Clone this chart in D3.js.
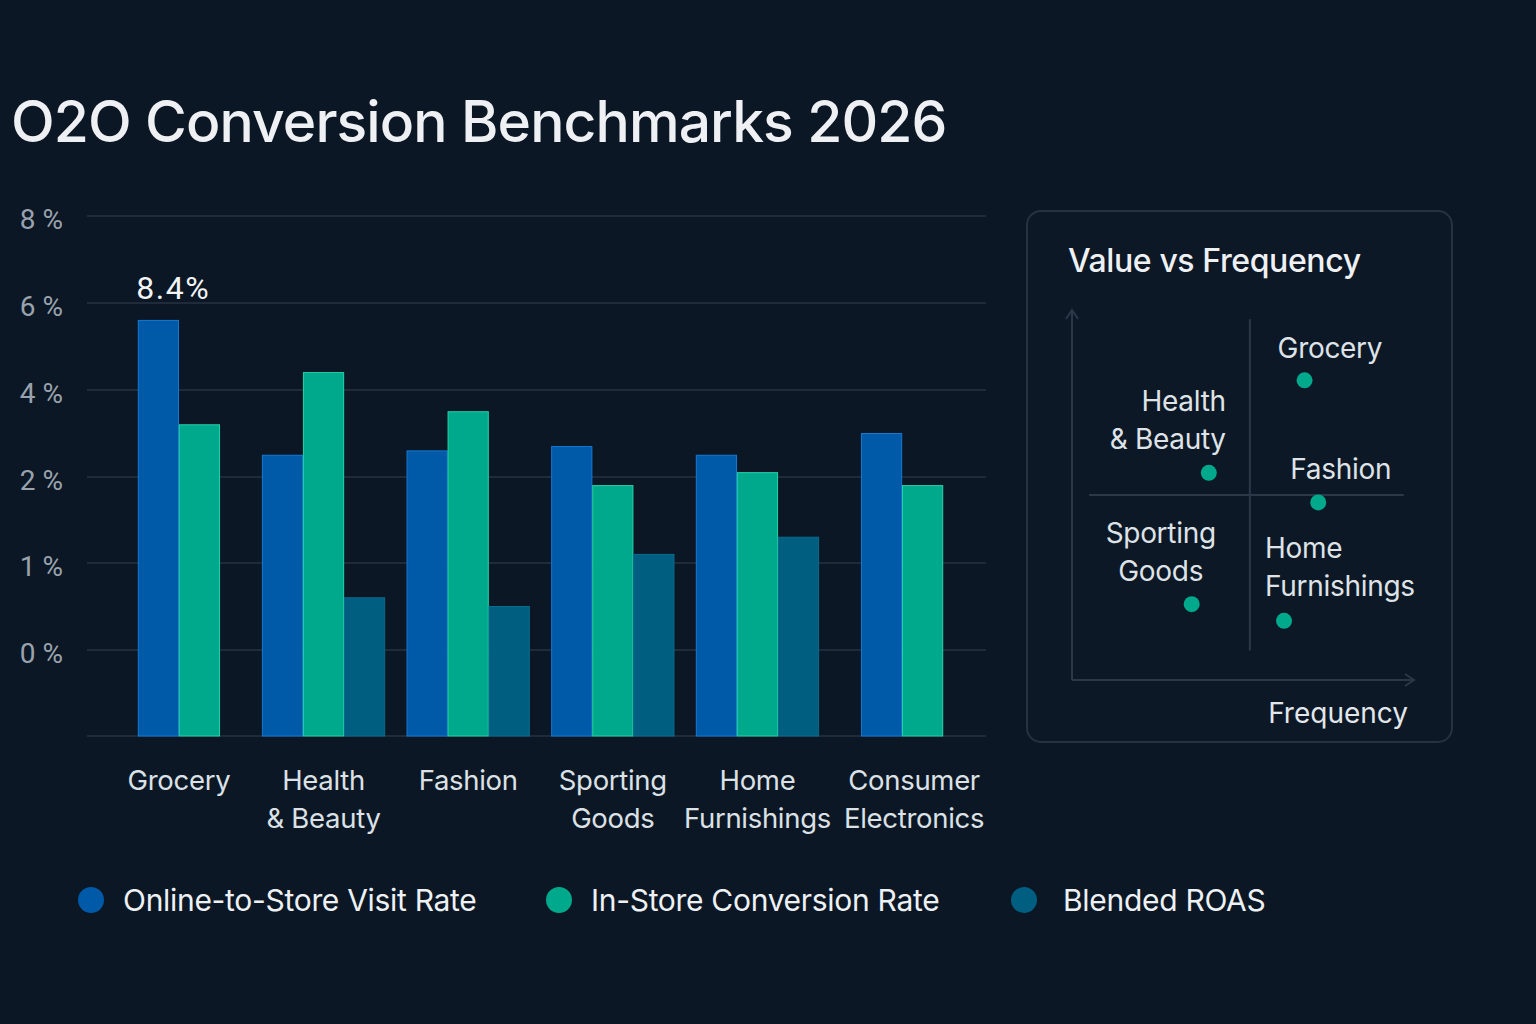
<!DOCTYPE html>
<html lang="en">
<head>
<meta charset="UTF-8">
<script src="https://d3js.org/d3.v7.min.js"></script>
<title>O2O Conversion Benchmarks 2026</title>
<style>
  html, body { margin: 0; padding: 0; background: #0b1725; }
  svg { display: block; font-family: Inter, "Noto Sans", sans-serif; }
</style>
</head>
<body>
<svg id="chart" width="1536" height="1024"></svg>
<script>
// categories and series
const categories = ["Grocery", "Health & Beauty", "Fashion", "Sporting Goods", "Home Furnishings", "Consumer Electronics"];
const categoryLines = [["Grocery"], ["Health", "& Beauty"], ["Fashion"], ["Sporting", "Goods"], ["Home", "Furnishings"], ["Consumer", "Electronics"]];
const seriesNames = ["Online-to-Store Visit Rate", "In-Store Conversion Rate", "Blended ROAS"];
const visitRate = [5.6, 2.5, 2.6, 2.7, 2.5, 3.0];
const conversionRate = [3.2, 4.4, 3.5, 1.9, 2.1, 1.9];
const blendedRoas = [null, 0.6, 0.5, 1.1, 1.3, null];
const seriesColors = ["#005aa8", "#00a88c", "#005f80"];
const seriesStrokes = ["#1679d2", "#25d3aa", "#0a6c8e"];

// y axis: ticks as printed (uneven steps)
const yTickValues = [0, 1, 2, 4, 6, 8];
const yTickLabels = ["0 %", "1 %", "2 %", "4 %", "6 %", "8 %"];
const calloutCategory = "Grocery";
const calloutText = "8.4%";

// inset scatter: value vs frequency
const scatterNames = ["Grocery", "Health & Beauty", "Fashion", "Sporting Goods", "Home Furnishings"];
const scatterFrequency = [6.8, 4.0, 7.2, 3.5, 6.2];
const scatterValue = [8.1, 5.6, 4.8, 2.05, 1.6];
const quadrantFrequency = 5.2;
const quadrantValue = 5.0;

const svg = d3.select("#chart");

// title
svg.append("text")
  .attr("x", 11).attr("y", 142)
  .attr("fill", "#eef0f3")
  .attr("font-size", 57).attr("font-weight", 500)
  .attr("letter-spacing", -0.9)
  .text("O2O Conversion Benchmarks 2026");

// main bar chart
const y = d3.scaleLinear()
  .domain([-1, 0, 1, 2, 4, 6, 8])
  .range([736, 650, 563, 477, 390, 303, 216]);

const x0 = d3.scaleBand().domain(categories).range([88, 993]).paddingInner(0.143).paddingOuter(0.2);
const x1 = d3.scaleBand().domain(seriesNames).range([0, x0.bandwidth()]).padding(0.02);

const grid = svg.append("g");
grid.selectAll("line")
  .data([-1].concat(yTickValues))
  .join("line")
  .attr("x1", 87).attr("x2", 986)
  .attr("y1", d => y(d)).attr("y2", d => y(d))
  .attr("stroke", "#1f2b3a").attr("stroke-width", 2);

const yAxis = d3.axisLeft(y).tickValues(yTickValues)
  .tickFormat((d, i) => yTickLabels[i]).tickSize(0).tickPadding(0);
const yAxisG = svg.append("g").attr("transform", "translate(63,3)").call(yAxis);
yAxisG.select(".domain").remove();
yAxisG.selectAll("text")
  .attr("fill", "#9aa3ad").attr("font-size", 28)
  .attr("font-family", "Roboto, Inter, sans-serif")
  .attr("dy", "0.35em");

// bars: groups with a missing series are centred in their band
const seriesData = [visitRate, conversionRate, blendedRoas];
const bars = [];
categories.forEach((c, ci) => {
  const present = seriesNames.filter((s, si) => seriesData[si][ci] != null);
  const shift = (seriesNames.length - present.length) * x1.step() / 2;
  present.forEach((s, pi) => {
    const si = seriesNames.indexOf(s);
    bars.push({ cat: c, series: s, si: si, value: seriesData[si][ci],
                x: x0(c) + shift + x1(seriesNames[pi]) });
  });
});

svg.append("g").selectAll("rect")
  .data(bars)
  .join("rect")
  .attr("x", d => d.x)
  .attr("y", d => y(d.value))
  .attr("width", x1.bandwidth())
  .attr("height", d => y(-1) - y(d.value))
  .attr("fill", d => seriesColors[d.si])
  .attr("stroke", d => seriesStrokes[d.si])
  .attr("stroke-width", 1);

// callout above Grocery
const calloutBar = bars.find(b => b.cat === calloutCategory && b.si === 0);
svg.append("text")
  .attr("x", calloutBar.x - 2)
  .attr("y", y(calloutBar.value) - 21)
  .attr("fill", "#f2f4f6").attr("font-size", 32)
  .attr("letter-spacing", 1.5)
  .attr("font-family", "Roboto, Inter, sans-serif")
  .text(calloutText);

// category labels
const labelShift = [0, 0, 0, 0, 0, 12];
const catLabels = svg.append("g");
categories.forEach((c, ci) => {
  const cx = x0(c) + x0.bandwidth() / 2 + labelShift[ci];
  const t = catLabels.append("text")
    .attr("x", cx)
    .attr("y", 790)
    .attr("text-anchor", "middle")
    .attr("fill", "#dce1e6").attr("font-size", 27.5)
    .attr("letter-spacing", -0.3);
  categoryLines[ci].forEach((line, li) => {
    t.append("tspan").attr("x", cx).attr("dy", li === 0 ? 0 : 38).text(line);
  });
});

// legend
const legendX = [91, 559, 1024];
const legend = svg.append("g").selectAll("g")
  .data(seriesNames)
  .join("g")
  .attr("transform", (d, i) => `translate(${legendX[i]},900)`);
legend.append("circle").attr("r", 13).attr("fill", (d, i) => seriesColors[i]);
legend.append("text")
  .attr("x", (d, i) => i === 2 ? 39 : 32).attr("dy", "0.35em")
  .attr("fill", "#eef1f4").attr("font-size", 30)
  .attr("letter-spacing", -0.3)
  .text(d => d);

// inset panel
const panel = svg.append("g");
panel.append("rect")
  .attr("x", 1027).attr("y", 211).attr("width", 425).attr("height", 531)
  .attr("rx", 14)
  .attr("fill", "#0c1826").attr("stroke", "#253242").attr("stroke-width", 2);
panel.append("text")
  .attr("x", 1068).attr("y", 272)
  .attr("fill", "#eef0f3").attr("font-size", 32).attr("font-weight", 500)
  .attr("letter-spacing", -0.4)
  .text("Value vs Frequency");

const sx = d3.scaleLinear().domain([0, 10]).range([1072, 1414]);
const sy = d3.scaleLinear().domain([0, 10]).range([680, 310]);

const axisColor = "#2b3848";
panel.append("line")
  .attr("x1", sx(0)).attr("x2", sx(0)).attr("y1", sy(0)).attr("y2", sy(10) + 2)
  .attr("stroke", axisColor).attr("stroke-width", 2);
panel.append("path")
  .attr("d", `M${sx(0) - 6},${sy(10) + 9} L${sx(0)},${sy(10)} L${sx(0) + 6},${sy(10) + 9}`)
  .attr("fill", "none").attr("stroke", axisColor).attr("stroke-width", 2);
panel.append("line")
  .attr("x1", sx(0)).attr("x2", sx(10) - 2).attr("y1", sy(0)).attr("y2", sy(0))
  .attr("stroke", axisColor).attr("stroke-width", 2);
panel.append("path")
  .attr("d", `M${sx(10) - 9},${sy(0) - 6} L${sx(10)},${sy(0)} L${sx(10) - 9},${sy(0) + 6}`)
  .attr("fill", "none").attr("stroke", axisColor).attr("stroke-width", 2);

// quadrant lines
panel.append("line")
  .attr("x1", sx(quadrantFrequency)).attr("x2", sx(quadrantFrequency))
  .attr("y1", sy(9.75)).attr("y2", sy(0.8))
  .attr("stroke", axisColor).attr("stroke-width", 2);
panel.append("line")
  .attr("x1", sx(0.5)).attr("x2", sx(9.7))
  .attr("y1", sy(quadrantValue)).attr("y2", sy(quadrantValue))
  .attr("stroke", axisColor).attr("stroke-width", 2);

panel.append("text")
  .attr("x", 1408).attr("y", 723).attr("text-anchor", "end")
  .attr("fill", "#e3e7eb").attr("font-size", 28)
  .text("Frequency");

// label placement relative to each point
const labelLayout = {
  "Grocery": { lines: ["Grocery"], dx: -27, dy: -22, anchor: "start" },
  "Health & Beauty": { lines: ["Health", "& Beauty"], dx: 17, dy: -62, anchor: "end" },
  "Fashion": { lines: ["Fashion"], dx: -28, dy: -23, anchor: "start" },
  "Sporting Goods": { lines: ["Sporting", "Goods"], dx: -31, dy: -61, anchor: "middle" },
  "Home Furnishings": { lines: ["Home", "Furnishings"], dx: -19, dy: -63, anchor: "start" }
};

const pts = scatterNames.map((n, i) => ({ name: n, f: scatterFrequency[i], v: scatterValue[i] }));
panel.append("g").selectAll("circle")
  .data(pts)
  .join("circle")
  .attr("cx", d => sx(d.f)).attr("cy", d => sy(d.v))
  .attr("r", 8)
  .attr("fill", "#00a88c");

pts.forEach(p => {
  const L = labelLayout[p.name];
  const t = panel.append("text")
    .attr("x", sx(p.f) + L.dx).attr("y", sy(p.v) + L.dy)
    .attr("text-anchor", L.anchor)
    .attr("fill", "#dfe3e7").attr("font-size", 28)
    .attr("letter-spacing", -0.3);
  L.lines.forEach((line, li) => {
    t.append("tspan").attr("x", sx(p.f) + L.dx).attr("dy", li === 0 ? 0 : 38).text(line);
  });
});
</script>
</body>
</html>
